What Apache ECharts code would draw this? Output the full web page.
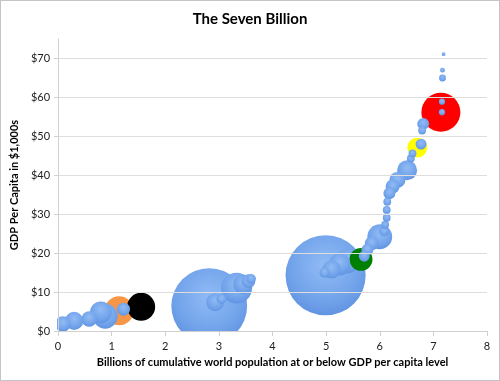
<!DOCTYPE html>
<html>
<head>
<meta charset="utf-8">
<script src="https://cdn.jsdelivr.net/npm/echarts@6/dist/echarts.min.js"></script>
<style>
html,body{margin:0;padding:0;background:#fff;}
#chart{width:500px;height:381px;box-sizing:border-box;border:1px solid #c4c4c4;}
</style>
</head>
<body>
<div id="chart"></div>
<script>
// Cumulative world population (billions) at or below GDP per capita level
var popCum = [0.09,0.30,0.58,0.80,0.88,1.14,1.22,1.55,2.82,2.93,3.05,3.33,3.45,3.55,3.60,4.99,4.97,5.10,5.25,5.40,5.65,5.71,5.77,5.85,6.00,6.08,6.10,6.13,6.13,6.14,6.18,6.24,6.33,6.51,6.58,6.61,6.70,6.77,6.79,6.81,7.14,7.16,7.16,7.17,7.17,7.19];
// GDP per capita ($1,000s)
var gdp = [1.8,2.6,3.1,4.8,3.8,5.2,5.6,6.2,6.4,7.4,8.2,11.0,12.0,12.8,13.4,14.3,15.0,15.8,17.1,17.9,18.4,19.2,20.9,22.5,24.2,25.6,27.3,29.1,31.1,33.2,35.4,37.1,38.8,41.3,44.3,45.6,47.1,48.0,51.5,53.2,56.2,56.2,58.9,65.0,67.0,71.1];
// Population (millions) -> bubble area
var pop = [50,70,50,100,130,177,36,165,1210,68,21,200,80,40,20,1350,21,70,100,120,111,25,30,40,130,21,13,13,13,13,30,41,54,84,13,13,84,25,13,30,320,8,8,10,5,3];
// Highlighted bubbles (index -> name)
var highlights = {5:'orange', 7:'black', 20:'green', 36:'yellow', 40:'red'};
var yTicks = ['$0','$10','$20','$30','$40','$50','$60','$70'];

var hlColors = {orange:'#f79646', black:'#000000', green:'#008000', yellow:'#ffff00', red:'#ff0000'};

var pts = popCum.map(function(x,i){
  return {value:[x, gdp[i], pop[i]], hl: highlights[i] || null};
});
pts.sort(function(a,b){return b.value[2]-a.value[2];});

function blueFill(){
  return new echarts.graphic.RadialGradient(0.5, 0.38, 0.65, [
    {offset:0, color:'#92bbf5'},
    {offset:0.7, color:'#70a2ea'},
    {offset:1, color:'#5e90e0'}
  ]);
}

var W = 498, H = 379;
var G = {left:57, right:12, top:38, bottom:49};

var chart = echarts.init(document.getElementById('chart'), null, {renderer:'canvas'});
var font = 'Lato, "Open Sans", sans-serif';
chart.setOption({
  animation:false,
  title:{text:'The Seven Billion', left:'center', top:6, z:20,
    textStyle:{fontFamily:font, fontSize:15, fontWeight:'bold', color:'#000'}},
  grid:G,
  // white masks outside the plot area so bubbles are cut at the axes (as in the original)
  graphic:[
    {type:'rect', left:0, bottom:0, z:5, silent:true,
      shape:{width:W, height:G.bottom-1}, style:{fill:'#fff'}},
    {type:'rect', left:0, top:0, z:5, silent:true,
      shape:{width:G.left-1, height:H}, style:{fill:'#fff'}}
  ],
  xAxis:{type:'value', min:0, max:8, interval:1, z:10,
    name:'Billions of cumulative world population at or below GDP per capita level',
    nameLocation:'middle', nameGap:26,
    nameTextStyle:{fontFamily:font, fontSize:11, fontWeight:'bold', color:'#000'},
    axisLine:{show:true, lineStyle:{color:'#d0d0d0', width:1}},
    axisTick:{show:true, length:5, lineStyle:{color:'#d0d0d0'}},
    axisLabel:{fontFamily:font, fontSize:11, color:'#222', margin:10},
    splitLine:{show:false}},
  yAxis:{type:'value', min:0, max:75, interval:10, z:10,
    name:'GDP Per Capita in $1,000s', nameLocation:'middle', nameGap:28,
    nameTextStyle:{fontFamily:font, fontSize:11, fontWeight:'bold', color:'#000'},
    axisLine:{show:true, lineStyle:{color:'#d0d0d0', width:1}},
    axisTick:{show:true, length:4, lineStyle:{color:'#d0d0d0'}},
    axisLabel:{fontFamily:font, fontSize:11, color:'#222', margin:8, showMaxLabel:false,
      formatter:function(v){ var i = Math.round(v/10); return (v%10===0 && yTicks[i]) ? yTicks[i] : ''; }},
    splitLine:{show:true, showMaxLine:false, lineStyle:{color:'#dedede', width:1}}},
  series:[{
    type:'custom',
    z:2,
    data:pts.map(function(p){return p.value;}),
    encode:{x:0, y:1},
    renderItem:function(params, api){
      var c = api.coord([api.value(0), api.value(1)]);
      var r = 1.09*Math.sqrt(api.value(2));
      var hl = pts[params.dataIndex].hl;
      return {type:'circle', shape:{cx:c[0], cy:c[1], r:r},
        style:{fill: hl ? hlColors[hl] : blueFill()}};
    },
    emphasis:{disabled:true}
  }]
});
</script>
</body>
</html>
